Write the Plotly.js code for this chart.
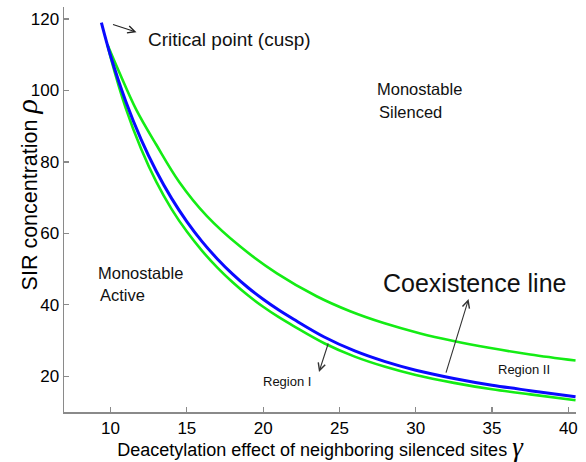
<!DOCTYPE html>
<html>
<head>
<meta charset="utf-8">
<script src="https://cdn.plot.ly/plotly-3.0.1.min.js"></script>
<style>html,body{margin:0;padding:0;background:#fff;}#chart{width:586px;height:462px;}</style>
</head>
<body>
<div id="chart"></div>
<script>
// Coexistence line (blue)
const gammaBlue = [9.4, 10, 11, 12, 13, 14, 15, 16, 17, 18, 19, 20, 21, 22, 24, 26, 28, 30, 32.5, 35, 37.5, 40.47];
const rhoBlue   = [119, 109.7, 96.9, 86.3, 77.4, 69.8, 63.3, 57.7, 52.85, 48.6, 44.85, 41.55, 38.6, 35.95, 31.0, 27.1, 24.1, 21.7, 19.4, 17.5, 15.98, 14.26];
// Upper boundary of the bistable region (green)
const gammaUpper = [9.8, 10.5, 11.7, 13, 14.5, 16.3, 18.5, 20.9, 23.5, 25.7, 27.9, 30.3, 32.4, 34.8, 37.5, 40.47];
const rhoUpper   = [112.8, 105.8, 94.5, 84.8, 74.4, 64.9, 56.3, 48.8, 42.4, 38.2, 34.9, 32.0, 29.95, 27.98, 26.1, 24.4];
// Lower boundary of the bistable region (green)
const gammaLower = [9.8, 10, 11, 12, 13, 14, 15, 16, 17, 18, 19, 20, 21, 22, 24, 26, 28, 30, 32.5, 35, 37.5, 40.47];
const rhoLower   = [112.8, 109.35, 95.0, 83.7, 74.4, 66.8, 60.5, 55.1, 50.4, 46.3, 42.65, 39.45, 36.6, 34.05, 29.25, 25.5, 22.65, 20.35, 18.15, 16.35, 14.93, 13.31];
// Tick values
const xTicks = [10, 15, 20, 25, 30, 35, 40];
const yTicks = [20, 40, 60, 80, 100, 120];

const FONT = 'Liberation Sans, Arial, sans-serif';
const GREEN = '#14ec14';
const BLUE = '#0a0aff';
const AXIS = '#8a8a8a';

const traces = [
  {x: gammaUpper, y: rhoUpper, mode: 'lines', line: {color: GREEN, width: 2.6, shape: 'spline', smoothing: 1}, hoverinfo: 'skip'},
  {x: gammaLower, y: rhoLower, mode: 'lines', line: {color: GREEN, width: 2.6, shape: 'spline', smoothing: 1}, hoverinfo: 'skip'},
  {x: gammaBlue, y: rhoBlue, mode: 'lines', line: {color: BLUE, width: 3, shape: 'spline', smoothing: 1}, hoverinfo: 'skip'}
];

function txt(t, x, y, size) {
  return {text: t, x: x, y: y, xref: 'x', yref: 'y', xanchor: 'left', yanchor: 'middle',
          showarrow: false, font: {family: FONT, size: size, color: '#111'}};
}
function arrow(x, y, ax, ay, color) {
  return {text: '', x: x, y: y, xref: 'x', yref: 'y', ax: ax, ay: ay, showarrow: true,
          arrowhead: 5, arrowsize: 1.3, arrowwidth: 1.1, arrowcolor: color, standoff: 0, startstandoff: 0};
}

const layout = {
  width: 586, height: 462,
  margin: {l: 64, r: 10, t: 7, b: 50.3},
  paper_bgcolor: '#fff', plot_bgcolor: '#fff',
  showlegend: false,
  font: {family: FONT, color: '#000'},
  xaxis: {
    range: [6.95, 40.5], tickvals: xTicks, ticktext: xTicks.map(String),
    showgrid: false, zeroline: false, showline: true, linecolor: AXIS, linewidth: 1.5,
    ticks: 'inside', ticklen: 5, tickcolor: AXIS, tickwidth: 1.2,
    tickfont: {family: FONT, size: 17, color: '#000'},
    title: {text: 'Deacetylation effect of neighboring silenced sites <span style="font-family:Liberation Serif;font-size:27px"><i>γ</i></span>',
            font: {family: FONT, size: 18, color: '#000'}, standoff: 4}
  },
  yaxis: {
    range: [10, 123.36], tickvals: yTicks, ticktext: yTicks.map(String),
    showgrid: false, zeroline: false, showline: true, linecolor: AXIS, linewidth: 1.5,
    ticks: 'inside', ticklen: 5, tickcolor: AXIS, tickwidth: 1.2,
    tickfont: {family: FONT, size: 17, color: '#000'}
  },
  annotations: [
    {text: 'SIR concentration <span style="font-family:Liberation Serif;font-size:30px"><i>ρ</i></span>',
     xref: 'paper', yref: 'paper', x: -0.074, y: 0.535, xanchor: 'center', yanchor: 'middle',
     textangle: -90, showarrow: false, font: {family: FONT, size: 21.5, color: '#000'}},
    txt('Critical point (cusp)', 12.31, 114.3, 19),
    txt('Monostable', 27.31, 100.3, 16.5),
    txt('Silenced', 27.44, 94.0, 16.5),
    txt('Monostable', 9.06, 48.8, 16.5),
    txt('Active', 9.17, 42.7, 16.5),
    txt('Coexistence line', 27.72, 46.1, 25),
    txt('Region I', 19.86, 18.4, 13),
    txt('Region II', 35.25, 21.9, 13),
    arrow(11.70, 116.3, -25, -8.3, '#222'),
    arrow(23.66, 21.2, 9.7, -30, '#333'),
    arrow(33.46, 41.6, -23, 75, '#333')
  ]
};

Plotly.newPlot('chart', traces, layout, {staticPlot: true, displayModeBar: false});
</script>
</body>
</html>
